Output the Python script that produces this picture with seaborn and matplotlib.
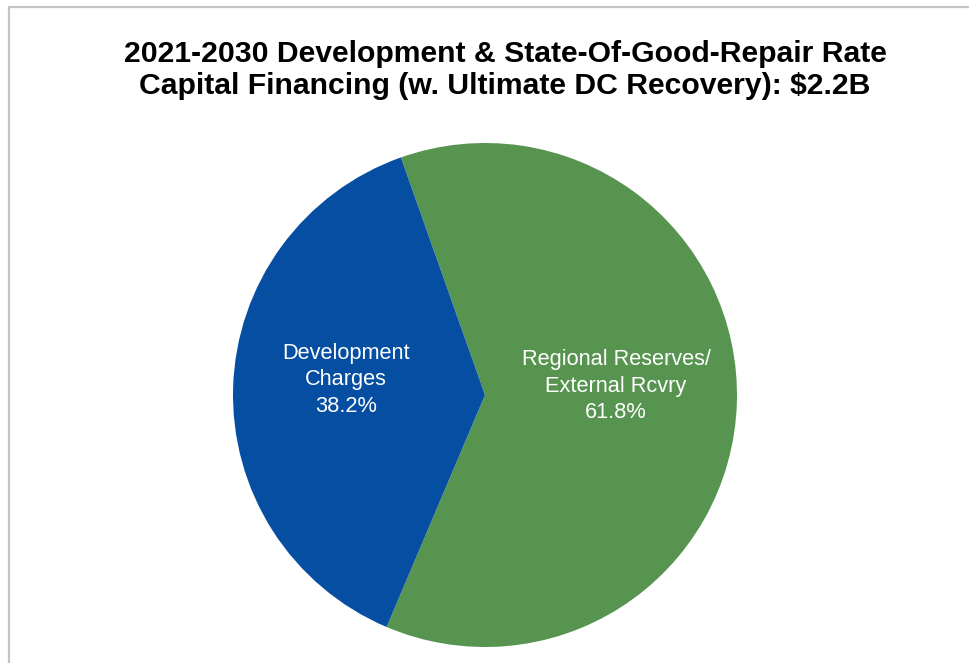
import matplotlib
matplotlib.use("Agg")
import matplotlib.pyplot as plt
import seaborn as sns
from matplotlib.lines import Line2D

sns.set_theme(style="white")
plt.rcParams["font.family"] = ["Liberation Sans", "DejaVu Sans"]

# Financing sources and their shares (%)
categories = ["Regional Reserves/\nExternal Rcvry", "Development\nCharges"]
shares = [61.8, 38.2]
colors = ["#56944F", "#054EA2"]
title = ("2021-2030 Development & State-Of-Good-Repair Rate\n"
         "Capital Financing (w. Ultimate DC Recovery): $2.2B")

W, H = 970, 663
fig = plt.figure(figsize=(W / 100, H / 100), dpi=100)
fig.patch.set_facecolor("white")

# chart-area border (top and left edges)
fig.add_artist(Line2D([9.5 / W, 9.5 / W], [0, 1 - 7 / H], transform=fig.transFigure,
                      color="#C4C4C4", lw=1.6))
fig.add_artist(Line2D([9.5 / W, 1], [1 - 7 / H, 1 - 7 / H], transform=fig.transFigure,
                      color="#C4C4C4", lw=1.6))

cx, cy, r = 485, 395, 252
ax = fig.add_axes([(cx - r) / W, (H - cy - r) / H, 2 * r / W, 2 * r / H])

wedges, texts = ax.pie(
    shares,
    colors=colors,
    startangle=109.5,
    counterclock=False,
    labels=[f"{c}\n{s:.1f}%" for c, s in zip(categories, shares)],
    labeldistance=0.5,
    textprops=dict(color="white", fontsize=15.7, ha="center", va="center",
                   linespacing=1.33),
    wedgeprops=dict(linewidth=0),
)
ax.set_xlim(-1, 1)
ax.set_ylim(-1, 1)
ax.set_aspect("equal")
ax.axis("off")

# label placement inside each slice
texts[0].set_position((0.52, 0.035))
texts[1].set_position((-0.552, 0.06))

fig.text(0.5206, 1 - 70 / H, title, ha="center", va="center", fontsize=21.7,
         fontweight="bold", color="black", linespacing=1.22)

fig.savefig("out.png", dpi=100, facecolor="white")
